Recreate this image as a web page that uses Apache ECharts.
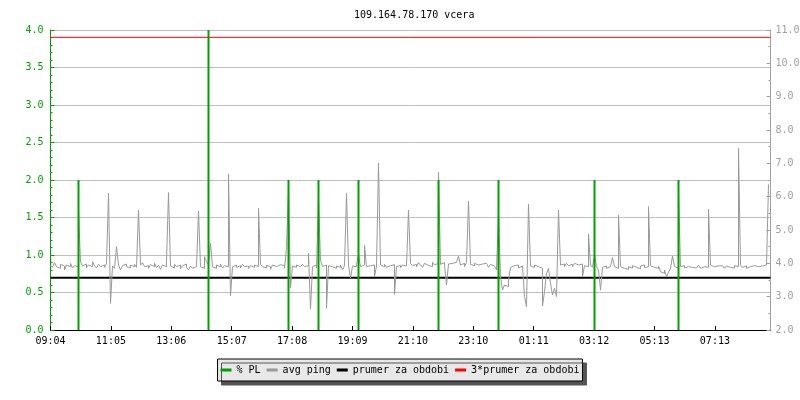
<!DOCTYPE html>
<html>
<head>
<meta charset="utf-8">
<title>109.164.78.170 vcera</title>
<script src="https://cdn.jsdelivr.net/npm/echarts@6/dist/echarts.min.js"></script>
<style>
  html, body { margin: 0; padding: 0; background: #fff; }
  #chart { width: 800px; height: 400px; }
</style>
</head>
<body>
<div id="chart"></div>
<script>
// popisky casove osy (kazdych ~2 hodiny)
var timeLabels = ['09:04', '11:05', '13:06', '15:07', '17:08', '19:09', '21:10', '23:10', '01:11', '03:12', '05:13', '07:13']

// avg ping [ms], jeden vzorek = 4 minuty
var avgPing = [
  3.95, 3.88, 4.02, 3.90, 3.85, 3.97, 3.92, 3.80, 3.95, 3.90, 4.00, 3.86, 3.93, 3.90, 5.55, 4.05, 3.92, 3.98, 3.87, 3.95,
  3.90, 4.05, 3.93, 3.86, 3.97, 3.90, 3.95, 3.88, 3.99, 6.10, 2.80, 3.92, 3.85, 4.50, 3.95, 3.80, 3.93, 3.98, 3.90, 3.86,
  3.95, 3.90, 3.97, 3.88, 5.60, 3.95, 4.02, 3.90, 3.93, 3.85, 3.96, 3.90, 4.00, 3.87, 3.94, 3.82, 3.95, 3.90, 4.05, 6.12,
  3.92, 3.86, 3.97, 3.90, 3.95, 3.84, 3.93, 3.98, 3.88, 3.80, 3.92, 3.85, 3.90, 3.95, 5.57, 3.90, 3.85, 4.20, 4.05, 3.95,
  4.60, 3.90, 3.85, 3.95, 3.90, 3.98, 3.86, 3.93, 3.90, 6.68, 3.03, 3.90, 3.95, 3.88, 3.93, 3.86, 3.97, 3.90, 3.92, 3.85,
  3.93, 3.88, 3.95, 3.90, 5.65, 3.97, 3.90, 3.86, 3.94, 3.90, 3.82, 3.95, 3.90, 3.88, 3.96, 3.90, 3.93, 3.85, 4.47, 6.23,
  3.26, 3.92, 3.88, 3.95, 3.90, 3.86, 3.97, 3.90, 3.93, 4.30, 2.63, 3.90, 3.95, 3.86, 5.93, 4.10, 3.90, 3.95, 2.65, 3.93,
  3.90, 3.96, 3.85, 3.92, 3.88, 3.95, 3.80, 3.93, 6.10, 3.95, 3.56, 3.92, 3.90, 3.97, 4.25, 3.90, 3.95, 4.55, 3.90, 3.93,
  3.88, 3.95, 3.60, 3.92, 7.00, 3.95, 3.90, 3.97, 3.88, 3.93, 3.90, 3.96, 3.07, 3.90, 3.94, 3.87, 3.95, 3.92, 3.98, 5.60,
  4.00, 3.93, 3.97, 3.90, 4.02, 3.95, 3.88, 4.00, 3.94, 3.98, 3.90, 4.03, 3.95, 4.00, 6.73, 3.97, 4.02, 3.93, 3.35, 3.98,
  4.00, 3.95, 4.03, 3.97, 4.22, 3.95, 4.00, 3.90, 4.02, 5.87, 3.97, 3.93, 4.00, 3.95, 3.90, 3.98, 3.93, 4.00, 3.95, 3.88,
  3.97, 3.92, 3.90, 3.80, 5.50, 3.60, 3.20, 3.35, 3.30, 3.50, 3.88, 3.93, 3.90, 3.95, 3.86, 3.92, 3.90, 3.00, 2.70, 5.78,
  3.92, 3.88, 3.95, 3.90, 3.93, 3.85, 2.72, 3.15, 3.70, 3.85, 3.40, 3.05, 3.25, 3.00, 5.60, 3.95, 3.98, 3.90, 4.00, 3.93,
  3.97, 3.90, 4.00, 3.95, 3.92, 3.98, 3.60, 3.93, 3.90, 4.88, 3.95, 3.88, 4.25, 3.90, 3.80, 3.20, 3.88, 3.92, 3.85, 3.90,
  3.87, 4.17, 3.90, 3.85, 5.45, 3.90, 3.85, 3.88, 3.82, 3.90, 3.86, 3.93, 3.88, 3.90, 3.84, 3.92, 3.95, 3.87, 3.90, 5.70,
  3.93, 3.88, 3.90, 3.85, 3.92, 3.75, 3.70, 3.80, 3.60, 3.72, 3.85, 4.22, 3.90, 3.86, 6.17, 3.90, 3.93, 3.86, 3.90, 3.84,
  3.88, 3.92, 3.86, 3.90, 3.95, 3.85, 3.90, 3.93, 3.88, 5.63, 3.95, 3.90, 3.86, 3.92, 3.88, 3.93, 3.90, 3.85, 3.92, 3.88,
  3.90, 3.86, 3.93, 3.90, 7.45, 3.95, 3.88, 3.92, 3.85, 3.90, 3.87, 3.93, 3.88, 3.90, 3.85, 3.92, 3.90, 3.95, 4.00, 6.37
]

// % PL - jen vzorky se ztratou (index vzorku, hodnota)
var plIndex = [14, 79, 119, 134, 154, 194, 224, 272, 314]
var plValue = [2.0, 4.0, 2.0, 2.0, 2.0, 2.0, 2.0, 2.0, 2.0]

var prumer = 3.57      // prumer za obdobi
var prumer3 = 10.78    // 3*prumer za obdobi

var font = 'DejaVu Sans Mono'
var green = '#00a000'
var gray = '#a0a0a0'

var chart = echarts.init(document.getElementById('chart'))

var option = {
  backgroundColor: '#fff',
  animation: false,
  title: {
    text: '109.164.78.170 vcera',
    left: 349,
    top: 5,
    textStyle: { fontFamily: font, fontSize: 10, fontWeight: 'normal', color: '#000' }
  },
  // pevna plocha grafu, popisky smi presahovat
  grid: { left: 50.5, right: 29.5, top: 30, bottom: 70, containLabel: false, outerBoundsMode: 'none' },
  legend: {
    left: 'center',
    top: 359,
    icon: 'rect',
    itemWidth: 11,
    itemHeight: 3,
    itemGap: 6,
    padding: [6, 3, 6, 3],
    backgroundColor: '#e8e8e8',
    borderColor: '#000',
    borderWidth: 1,
    shadowColor: '#555',
    shadowBlur: 0,
    shadowOffsetX: 4,
    shadowOffsetY: 4,
    textStyle: { fontFamily: font, fontSize: 10, color: '#000' },
    data: ['% PL', 'avg ping', 'prumer za obdobi', '3*prumer za obdobi']
  },
  xAxis: {
    type: 'value',
    min: 0,
    max: 360,
    interval: 30.2,
    splitLine: { show: false },
    axisLine: { lineStyle: { color: '#000' } },
    axisTick: { inside: true, length: 4, lineStyle: { color: '#000' } },
    axisLabel: {
      margin: 6,
      fontFamily: font,
      fontSize: 10,
      color: '#000',
      showMaxLabel: false,
      formatter: function (v) {
        var k = Math.round(v / 30.2)
        if (Math.abs(v - k * 30.2) > 0.5) return ''
        return timeLabels[k] || ''
      }
    }
  },
  yAxis: [{
    type: 'value',
    min: 0,
    max: 4,
    interval: 0.5,
    axisLine: { show: true, lineStyle: { color: green } },
    axisTick: { inside: true, length: 4, lineStyle: { color: green } },
    minorTick: { show: true, splitNumber: 5, length: 2, lineStyle: { color: green } },
    splitLine: { lineStyle: { color: '#c0c0c0' } },
    axisLabel: {
      margin: 7,
      fontFamily: font,
      fontSize: 10,
      color: green,
      formatter: function (v) { return v.toFixed(1) }
    }
  }, {
    type: 'value',
    min: 2,
    max: 11,
    interval: 1,
    position: 'right',
    axisLine: { show: true, lineStyle: { color: gray } },
    axisTick: { inside: true, length: 4, lineStyle: { color: gray } },
    minorTick: { show: true, splitNumber: 2, length: 2, lineStyle: { color: gray } },
    splitLine: { show: false },
    axisLabel: {
      margin: 5,
      fontFamily: font,
      fontSize: 10,
      color: gray,
      formatter: function (v) { return v.toFixed(1) }
    }
  }],
  series: [
    {
      name: 'prumer za obdobi',
      type: 'line',
      yAxisIndex: 1,
      showSymbol: false,
      z: 1,
      itemStyle: { color: '#000' },
      lineStyle: { color: '#000', width: 2 },
      data: [[0, prumer], [360, prumer]]
    },
    {
      name: '3*prumer za obdobi',
      type: 'line',
      yAxisIndex: 1,
      showSymbol: false,
      z: 1,
      itemStyle: { color: '#ff0000' },
      lineStyle: { color: '#ff0000', width: 1 },
      data: [[0, prumer3], [360, prumer3]]
    },
    {
      name: 'avg ping',
      type: 'line',
      yAxisIndex: 1,
      step: 'end',
      showSymbol: false,
      z: 2,
      itemStyle: { color: '#999999' },
      lineStyle: { color: '#999999', width: 1 },
      data: avgPing.map(function (v, i) { return [i, v] })
    },
    {
      name: '% PL',
      type: 'bar',
      yAxisIndex: 0,
      barWidth: 2,
      z: 3,
      itemStyle: { color: green },
      data: plIndex.map(function (idx, i) { return [idx, plValue[i]] })
    }
  ]
}

chart.setOption(option)
</script>
</body>
</html>
